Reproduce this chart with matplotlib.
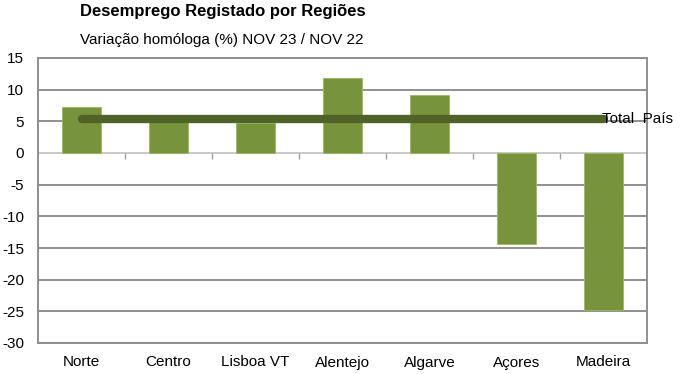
import matplotlib
matplotlib.use('Agg')
import matplotlib.pyplot as plt
import numpy as np

## dados
regioes = ['Norte', 'Centro', 'Lisboa VT', 'Alentejo', 'Algarve', 'Açores', 'Madeira']
variacao = [7.3, 5.0, 4.8, 11.8, 9.1, -14.3, -24.8]
total_pais = 5.3
y_ticks = [15, 10, 5, 0, -5, -10, -15, -20, -25, -30]

plt.rcParams['font.family'] = ['Liberation Sans', 'DejaVu Sans']

fig = plt.figure(figsize=(6.8, 3.74), dpi=100)
ax = fig.add_axes([38 / 680, 1 - 343 / 374, 609 / 680, 285 / 374])

x = np.arange(len(regioes))
ax.bar(x, variacao, width=0.44, color='#77933C', edgecolor='#9BBB59', linewidth=0.6, zorder=3)

## linha do total do pais, do primeiro ao ultimo centro de categoria
ax.plot([x[0], x[-1]], [total_pais, total_pais], color='#4F6228', linewidth=6,
        solid_capstyle='round', zorder=4)
ax.text(x[-1] - 0.02, total_pais, 'Total  País', fontsize=11, va='center', ha='left',
        zorder=5, clip_on=False)

ax.set_xlim(-0.5, len(regioes) - 0.5)
ax.set_ylim(min(y_ticks), max(y_ticks))
ax.set_yticks(y_ticks)
ax.set_yticklabels([str(v) for v in y_ticks], fontsize=11)
ax.set_xticks(x)
ax.set_xticklabels(regioes, fontsize=11)
ax.tick_params(axis='both', length=0)
ax.tick_params(axis='y', pad=10)
ax.tick_params(axis='x', pad=9)

## grelha
for v in y_ticks:
    if v == 0:
        ax.axhline(v, color='#c0c0c0', linewidth=1.2, zorder=2)
    else:
        ax.axhline(v, color='#8f8f8f', linewidth=1.4, zorder=1)

## pequenas marcas entre categorias no eixo do zero
ax.vlines(x[:-1] + 0.5, -0.9, 0, color='#a0a0a0', linewidth=1.0, zorder=2)

for s in ax.spines.values():
    s.set_color('#8f8f8f')
    s.set_linewidth(1.4)

fig.text(0.328, 0.968, 'Desemprego Registado por Regiões', fontsize=12, fontweight='bold',
         ha='center', va='center')
fig.text(0.326, 0.893, 'Variação homóloga (%) NOV 23 / NOV 22', fontsize=11,
         ha='center', va='center')

fig.savefig('out.png', dpi=100)
